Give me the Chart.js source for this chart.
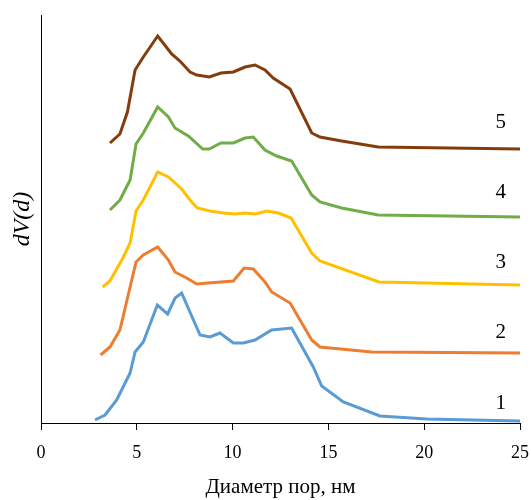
<!DOCTYPE html>
<html>
<head>
<meta charset="utf-8">
<script src="https://cdn.jsdelivr.net/npm/chart.js@4"></script>
<style>
  html, body { margin: 0; padding: 0; background: #fff; }
  #chart { display: block; }
</style>
</head>
<body>
<canvas id="chart" width="531" height="500"></canvas>
<script>
// pore diameter (nm) and dV(d) for each sample
const d1 = [2.82, 3.34, 3.95, 4.65, 4.91, 5.34, 6.07, 6.61, 7.0, 7.34, 8.3, 8.82, 9.34, 10.04, 10.56, 11.17, 12.04, 13.08, 14.21, 14.65, 15.78, 17.69, 20.13, 25];
const v1 = [3, 8, 23, 50, 71, 81, 118, 109, 125, 130, 88, 86, 90, 80, 80, 83, 93, 95, 56, 37, 21, 7, 4, 2];

const d2 = [3.11, 3.6, 4.12, 4.96, 5.34, 6.09, 6.65, 6.99, 7.6, 8.13, 8.73, 10.04, 10.6, 11.08, 11.69, 12.04, 13.0, 14.13, 14.56, 17.26, 25];
const v2 = [68, 76, 93, 161, 168, 176, 163, 151, 145, 139, 140, 142, 155, 154, 141, 131, 120, 83, 76, 71, 70];

const d3 = [3.22, 3.6, 4.3, 4.65, 4.96, 5.34, 6.09, 6.65, 7.34, 7.78, 8.16, 8.82, 9.52, 10.13, 10.65, 11.2, 11.78, 12.39, 13.05, 14.13, 14.56, 17.64, 25];
const v3 = [136, 142, 166, 180, 212, 223, 251, 246, 234, 223, 215, 212, 210, 209, 210, 209, 212, 210, 205, 170, 162, 141, 138];

const d4 = [3.6, 4.12, 4.65, 4.96, 5.34, 6.09, 6.65, 6.99, 7.69, 8.44, 8.78, 9.39, 10.04, 10.65, 11.08, 11.69, 12.3, 13.08, 14.13, 14.56, 15.69, 17.6, 25];
const v4 = [213, 223, 243, 279, 290, 316, 306, 295, 287, 274, 274, 280, 280, 285, 286, 273, 267, 262, 228, 221, 215, 208, 206];

const d5 = [3.6, 4.12, 4.51, 4.91, 5.34, 6.09, 6.82, 7.25, 7.78, 8.13, 8.78, 9.39, 10.04, 10.65, 11.17, 11.69, 12.12, 13.0, 14.13, 14.56, 15.69, 17.6, 25];
const v5 = [280, 289, 311, 353, 366, 387, 369, 362, 351, 348, 346, 350, 351, 356, 358, 353, 345, 334, 290, 286, 282, 276, 274];

const seriesNames = ["1", "2", "3", "4", "5"];
const seriesColors = ["#5B9BD5", "#ED7D31", "#FFC000", "#70AD47", "#843C0C"];
const xTicks = [0, 5, 10, 15, 20, 25];

const allD = [d1, d2, d3, d4, d5];
const allV = [v1, v2, v3, v4, v5];

const datasets = allD.map((d, i) => ({
  label: seriesNames[i],
  data: d.map((x, j) => ({ x: x, y: allV[i][j] })),
  borderColor: seriesColors[i],
  backgroundColor: seriesColors[i],
  borderWidth: 3,
  pointRadius: 0,
  tension: 0,
  fill: false,
}));

// number next to the right end of every curve
const endLabels = {
  id: "endLabels",
  afterDatasetsDraw(chart) {
    const { ctx, scales } = chart;
    ctx.save();
    ctx.font = "21px 'Liberation Serif', 'Times New Roman', serif";
    ctx.fillStyle = "#000";
    ctx.textAlign = "center";
    ctx.textBaseline = "middle";
    chart.data.datasets.forEach((ds, i) => {
      const last = ds.data[ds.data.length - 1];
      const px = scales.x.getPixelForValue(24.0);
      const py = scales.y.getPixelForValue(last.y + 18 + i * 2.2);
      ctx.fillText(ds.label, px, py);
    });
    ctx.restore();
  },
};

const serif = "'Liberation Serif', 'Times New Roman', serif";

new Chart(document.getElementById("chart"), {
  type: "line",
  data: { datasets },
  options: {
    responsive: false,
    animation: false,
    layout: { padding: { top: 15, right: 0, left: 0, bottom: 0 } },
    plugins: {
      legend: { display: false },
      tooltip: { enabled: false },
    },
    scales: {
      x: {
        type: "linear",
        min: 0,
        max: 25,
        afterBuildTicks: (scale) => {
          scale.ticks = xTicks.map((v) => ({ value: v }));
        },
        afterFit: (scale) => {
          scale.height = 77;
          scale.paddingRight = 11;
        },
        grid: {
          display: true,
          drawOnChartArea: false,
          drawTicks: true,
          tickLength: 7,
          color: "#000",
        },
        border: { display: true, color: "#000", width: 1 },
        ticks: {
          color: "#000",
          padding: 12,
          maxRotation: 0,
          font: { family: serif, size: 18 },
        },
        title: {
          display: true,
          text: "Диаметр пор, нм",
          color: "#000",
          padding: { top: 2, bottom: 0 },
          font: { family: serif, size: 21 },
        },
      },
      y: {
        min: 0,
        max: 408,
        afterFit: (scale) => {
          scale.width = 41;
        },
        grid: { display: false },
        border: { display: true, color: "#000", width: 1 },
        ticks: { display: false },
        title: {
          display: true,
          text: "dV(d)",
          color: "#000",
          padding: { top: 8, bottom: 0 },
          font: { family: serif, size: 24, style: "italic" },
        },
      },
    },
  },
  plugins: [endLabels],
});
</script>
</body>
</html>
